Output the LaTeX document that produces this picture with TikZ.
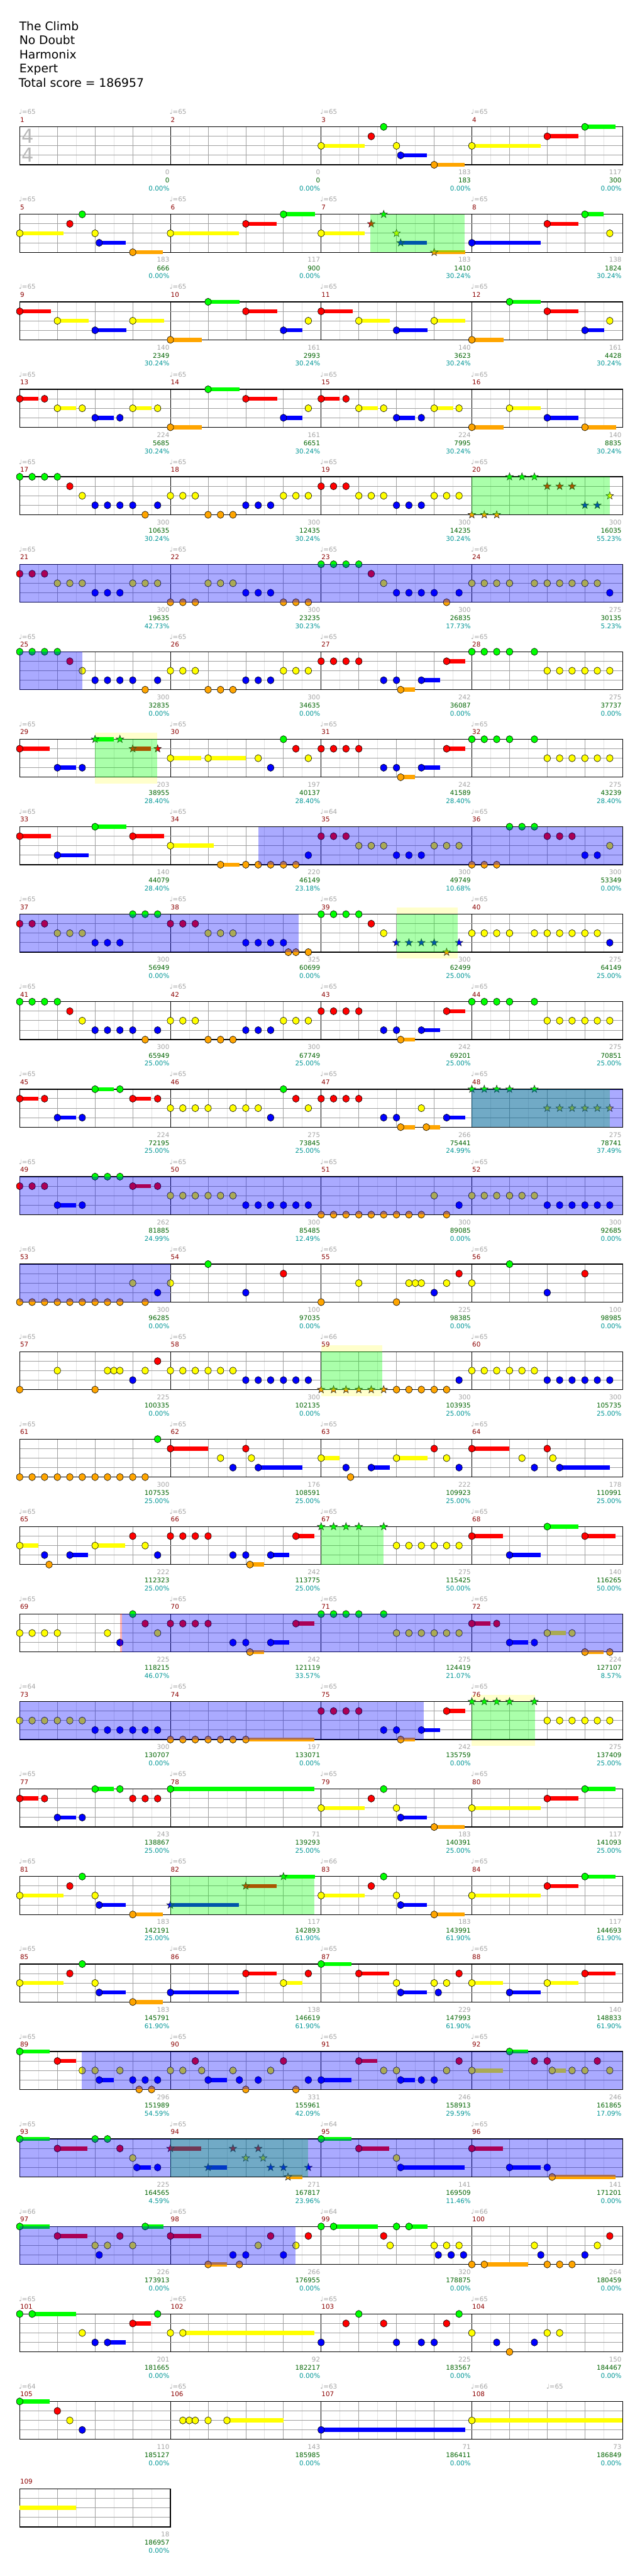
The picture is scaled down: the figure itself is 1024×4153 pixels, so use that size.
\documentclass[tikz,border=0pt]{standalone}
\usepackage{fontspec}
\setmainfont{DejaVu Sans}
\usepackage{tikz}
\usetikzlibrary{positioning}

\definecolor{lane0}{RGB}{0,255,0}
\definecolor{lane1}{RGB}{255,0,0}
\definecolor{lane2}{RGB}{255,255,0}
\definecolor{lane3}{RGB}{0,0,255}
\definecolor{lane4}{RGB}{255,165,0}
\definecolor{numred}{RGB}{140,0,0}
\definecolor{bpmgray}{RGB}{165,165,165}
\definecolor{scgreen}{RGB}{0,100,0}
\definecolor{pcteal}{RGB}{0,150,150}
\definecolor{gridlight}{RGB}{226,226,226}
\definecolor{gridmid}{RGB}{160,160,160}
\definecolor{sqzyellow}{RGB}{255,255,204}

% layout constants (1pt = 1px of the chart)
\def\xo{31.75}  \def\mw{243.06} \def\bw{60.77}
\def\yo{204.5}  \def\rp{141.04} \def\lw{15.3} \def\sh{61.2}
\newcommand\lblfont{\fontsize{10.5}{12}\selectfont}

% position of beat #2 in measure #1
\newcommand\setpos[2]{%
  \pgfmathtruncatemacro\rowi{(#1-1)/4}%
  \pgfmathtruncatemacro\coli{#1-1-4*\rowi}%
  \pgfmathsetmacro\nx{\xo+\mw*\coli+\bw*#2}%
  \pgfmathsetmacro\ty{-\yo-\rp*\rowi}%
}
% note: measure, beat, lane, sustain
\newcommand\nt[4]{%
  \setpos{#1}{#2}%
  \pgfmathsetmacro\ny{\ty-\lw*#3}%
  \edef\nc{lane#3}%
  \ifdim #4pt>0pt \fill[\nc] (\nx,\ny-3.35) rectangle ++({\bw*#4},6.7);\fi
  \filldraw[fill=\nc,draw=black,line width=0.6] (\nx,\ny) ellipse [x radius=5.2,y radius=5.8];%
}
% star note
\newcommand\snt[4]{%
  \setpos{#1}{#2}%
  \pgfmathsetmacro\ny{\ty-\lw*#3}%
  \edef\nc{lane#3}%
  \ifdim #4pt>0pt \fill[\nc] (\nx,\ny-3.35) rectangle ++({\bw*#4},6.7);\fi
  \filldraw[fill=\nc,draw=black!85,line width=0.6] ([shift={(\nx,\ny)}]90:6.4)
    \foreach \k in {1,...,9}{ -- ([shift={(\nx,\ny)}]{90+36*\k}:{mod(\k,2)==1?2.6:6.4}) } -- cycle;%
}
\newcommand\ms[2]{\edef\plist{#2}\foreach \pb/\pl/\ps in \plist {\nt{#1}{\pb}{\pl}{\ps}}}
\newcommand\mst[2]{\edef\plist{#2}\foreach \pb/\pl/\ps in \plist {\snt{#1}{\pb}{\pl}{\ps}}}
% shaded span inside one row
\newcommand\band[5]{\setpos{#1}{#2}\let\xa\nx\setpos{#3}{#4}%
  \fill[#5] (\xa,\ty) rectangle (\nx,\ty-\sh);}
\newcommand\halo[3]{\setpos{#1}{#2}\let\xa\nx\setpos{#1}{#3}%
  \fill[sqzyellow] (\xa,\ty+10.3) rectangle (\nx,\ty);
  \fill[sqzyellow] (\xa,\ty-\sh) rectangle (\nx,\ty-\sh-10.3);}

\begin{document}
\begin{tikzpicture}[x=1pt,y=1pt,
  eighthline/.style={gridlight,line width=0.8},
  beatline/.style={gridmid,line width=0.8},
  barline/.style={black,line width=0.9},
  laneline/.style={gridmid,line width=1},
  staffbox/.style={black,line width=1.3},
  spzone/.style={lane0,fill opacity=0.333},
  odzone/.style={lane3,fill opacity=0.333},
  ttl/.style={anchor=base west,inner sep=0,font=\fontsize{19}{23}\selectfont},
  numlbl/.style={anchor=base west,inner sep=0,font=\lblfont,text=numred},
  bpmlbl/.style={anchor=base west,inner sep=0,font=\lblfont,text=bpmgray},
  gaplbl/.style={anchor=base east,inner sep=0,font=\lblfont,text=bpmgray},
  sclbl/.style={anchor=base east,inner sep=0,font=\lblfont,text=scgreen},
  pclbl/.style={anchor=base east,inner sep=0,font=\lblfont,text=pcteal},
  tsig/.style={inner sep=0,font=\fontsize{31}{31}\selectfont,text=black!28}
]
\fill[white] (0,0) rectangle (1024,-4153);
\useasboundingbox (0,0) rectangle (1024,-4153);

% Title block
\node[ttl] (ttl1) at (31,-48.7) {The Climb};
\node[ttl] (ttl2) at (31,-71.5) {No Doubt};
\node[ttl] (ttl3) at (31,-94.4) {Harmonix};
\node[ttl] (ttl4) at (31,-117.2) {Expert};
\node[ttl] (ttl5) at (30,-140) {Total score = 186957};

% Squeeze areas around some phrases
\halo{29}{2}{3.65} \halo{39}{2}{3.63} \halo{59}{0}{1.63} \halo{76}{0}{1.67}

% Staff grids (27 full rows)
\foreach \r in {0,...,26}{
  \pgfmathsetmacro\ty{-\yo-\rp*\r}
  \foreach \i in {1,3,...,31} \draw[eighthline] ({\xo+\mw/8*\i},\ty) -- ++(0,-\sh);
  \foreach \i in {1,...,15} \draw[beatline] ({\xo+\bw*\i},\ty) -- ++(0,-\sh);
  \foreach \i in {1,2,3} \draw[barline] ({\xo+\mw*\i},\ty) -- ++(0,-\sh);
  \foreach \i in {1,2,3} \draw[laneline] (\xo,{\ty-\lw*\i}) -- ++({4*\mw},0);
  \draw[staffbox] (\xo,\ty) rectangle ++({4*\mw},-\sh);
}
% Last row, one measure
\pgfmathsetmacro\ty{-\yo-\rp*27}
\foreach \i in {1,3,5,7} \draw[eighthline] ({\xo+\mw/8*\i},\ty) -- ++(0,-\sh);
\foreach \i in {1,2,3} \draw[beatline] ({\xo+\bw*\i},\ty) -- ++(0,-\sh);
\foreach \i in {1,2,3} \draw[laneline] (\xo,{\ty-\lw*\i}) -- ++(\mw,0);
\draw[staffbox] (\xo,\ty) rectangle ++(\mw,-\sh);

% Time signature
\node[tsig] (tsig1) at (44.7,-219.2) {4};
\node[tsig] (tsig2) at (44.7,-249.4) {4};

% Note patterns: beat/lane/sustain
\def\patA{0/0/0,.33/0/0,.66/0/0,1/0/0,1.33/1/0,1.66/2/0,2/3/0,2.33/3/0,2.66/3/0,3/3/0,3.33/4/0,3.66/3/0}
\def\patB{0/2/0,.33/2/0,.66/2/0,1/4/0,1.33/4/0,1.66/4/0,2/3/0,2.33/3/0,2.66/3/0,3/2/0,3.33/2/0,3.66/2/0}
\def\patC{0/1/0,.33/1/0,.66/1/0,1/1/0,1.66/3/0,2/3/0,2.11/4/.38,2.66/3/.49,3.33/1/.49}
\def\patDg{0/0/0,.33/0/0,.66/0/0,1/0/0,1.66/0/0}
\def\patDy{2/2/0,2.33/2/0,2.66/2/0,3/2/0,3.33/2/0,3.66/2/0}
\def\patE{0/2/1.16,1.33/1/0,1.66/0/0,2/2/0,2.11/3/.7,3/4/.8}
\def\patF{0/2/1.82,2/1/.82,3/0/.82}
\def\patG{0/1/0,.33/1/0,.66/1/0,1/2/0,1.33/2/0,1.66/2/0,2/3/0,2.33/3/0,2.66/3/0,3/2/0,3.33/2/0,3.66/2/0}
\def\patH{0/4/.84,1/0/.83,2/1/.83,3/3/.51,3.66/2/0}
\def\patI{0/1/.83,1/2/.83,2/3/.83,3/2/.83}
\def\patJ{0/1/.49,.66/1/0,1/2/.5,1.66/2/0,2/3/.49,2.66/3/0,3/2/.5,3.66/2/0}
\def\patK{0/2/0,.33/2/0,.66/2/0,1/2/0,1.33/2/0,1.66/2/0,2/3/0,2.33/3/0,2.66/3/0,3/3/0,3.33/3/0,3.66/3/0}
\def\patL{0/4/0,.33/4/0,.66/4/0,1/4/0,1.33/4/0,1.66/4/0,2/4/0,2.33/4/0,2.66/4/0,3/2/0,3.33/4/0,3.66/3/0}
\def\patM{0/2/0,.33/2/0,.66/2/0,1/2/0,1.66/2/0,2/2/0,2.33/2/0,2.66/2/0,3/2/0,3.33/2/0,3.66/3/0}
\def\patN{0/2/0,1/0/0,2/3/0,3/1/0}
\def\patP{0/4/0,1/2/0,2/4/0,2.33/2/0,2.5/2/0,2.66/2/0,3/3/0,3.33/2/0,3.66/1/0}
\def\patS{0/4/0,.33/4/0,.66/4/0,1/0/0,1.33/0/0,1.66/0/0,2/1/0,2.33/1/0,2.66/1/0,3/3/0,3.33/3/0,3.66/2/0}

% Notes, measure by measure
\ms{3}{\patE} \ms{4}{\patF} \ms{5}{\patE} \ms{6}{0/2/1.82,2/1/.82,3/0/.83}
\ms{7}{0/2/1.16} \mst{7}{1.33/1/0,1.66/0/0,2/2/0,2.11/3/.7,3/4/.82}
\ms{8}{0/3/1.82,2/1/.82,3/0/.5,3.66/2/0}
\ms{9}{\patI} \ms{10}{\patH} \ms{11}{\patI} \ms{12}{\patH}
\ms{13}{\patJ} \ms{14}{\patH} \ms{15}{\patJ} \ms{16}{0/4/.84,1/2/.83,2/3/.83,3/4/.83}
\ms{17}{\patA} \ms{18}{\patB} \ms{19}{\patG} \mst{20}{\patS}
\ms{21}{\patG} \ms{22}{0/4/0,.33/4/0,.66/4/0,1/2/0,1.33/2/0,1.66/2/0,2/3/0,2.33/3/0,2.66/3/0,3/4/0,3.33/4/0,3.66/4/0}
\ms{23}{\patA} \ms{24}{\patM}
\ms{25}{\patA} \ms{26}{\patB} \ms{27}{\patC} \ms{28}{\patDg,\patDy}
\ms{29}{0/1/.8,1/3/.49,1.66/3/0} \mst{29}{2/0/.49,2.66/0/0,3/1/.49,3.66/1/0}
\ms{30}{0/2/.82,1/2/1,2.33/2/0,2.66/3/0,3/0/0,3.33/1/0,3.66/2/0}
\ms{31}{\patC} \ms{32}{\patDg,\patDy}
\ms{33}{0/1/.83,1/3/.83,2/0/.83,3/1/.83}
\ms{34}{0/2/1.15,1.33/4/.5,2/4/0,2.33/4/0,2.66/4/0,3/4/0,3.33/4/0,3.66/3/0}
\ms{35}{\patG} \ms{36}{\patS}
\ms{37}{0/1/0,.33/1/0,.66/1/0,1/2/0,1.33/2/0,1.66/2/0,2/3/0,2.33/3/0,2.66/3/0,3/0/0,3.33/0/0,3.66/0/0}
\ms{38}{0/1/0,.33/1/0,.66/1/0,1/2/0,1.33/2/0,1.66/2/0,2/3/0,2.33/3/0,2.66/3/0,3/3/0,3.13/4/0,3.33/4/0,3.66/4/0}
\ms{39}{0/0/0,.33/0/0,.66/0/0,1/0/0,1.33/1/0,1.66/2/0} \mst{39}{2/3/0,2.33/3/0,2.66/3/0,3/3/0,3.33/4/0,3.66/3/0}
\ms{40}{\patM}
\ms{41}{\patA} \ms{42}{\patB} \ms{43}{\patC} \ms{44}{\patDg,\patDy}
\ms{45}{0/1/.49,.66/1/0,1/3/.49,1.66/3/0,2/0/.49,2.66/0/0,3/1/.49,3.66/1/0}
\ms{46}{0/2/0,.33/2/0,.66/2/0,1/2/0,1.66/2/0,2/2/0,2.33/2/0,2.66/3/0,3/0/0,3.33/1/0,3.66/2/0}
\ms{47}{0/1/0,.33/1/0,.66/1/0,1/1/0,1.66/3/0,2/3/0,2.11/4/.38,2.66/2/0,2.79/4/.36,3.33/3/.5}
\mst{48}{\patDg,\patDy}
\ms{49}{0/1/0,.33/1/0,.66/1/0,1/3/.49,1.66/3/0,2/0/0,2.33/0/0,2.66/0/0,3/1/.49,3.66/1/0}
\ms{50}{\patK} \ms{51}{\patL} \ms{52}{\patK}
\ms{53}{\patL} \ms{54}{\patN} \ms{55}{\patP} \ms{56}{\patN}
\ms{57}{\patP} \ms{58}{\patK}
\mst{59}{0/4/0,.33/4/0,.66/4/0,1/4/0,1.33/4/0,1.66/4/0} \ms{59}{2/4/0,2.33/4/0,2.66/4/0,3/4/0,3.33/4/0,3.66/3/0}
\ms{60}{\patK}
\ms{61}{0/4/0,.33/4/0,.66/4/0,1/4/0,1.33/4/0,1.66/4/0,2/4/0,2.33/4/0,2.66/4/0,3/4/0,3.33/4/0,3.66/0/0}
\ms{62}{0/1/1,1.33/2/0,1.66/3/0,2/1/0,2.15/2/0,2.33/3/1.17}
\ms{63}{0/2/.49,.66/3/0,.78/4/0,1.33/3/.5,2/2/.83,3/1/0,3.33/2/0,3.66/3/0}
\ms{64}{0/1/1,1.33/2/0,1.66/3/0,2/1/0,2.15/2/0,2.33/3/1.34}
\ms{65}{0/2/.49,.66/3/0,.78/4/0,1.33/3/.49,2/2/.8,3/1/0,3.33/2/0,3.66/3/0}
\ms{66}{\patC} \mst{67}{\patDg} \ms{67}{\patDy} \ms{68}{0/1/.82,1/3/.82,2/0/.82,3/1/.82}
\ms{69}{0/2/0,.33/2/0,.66/2/0,1/2/0,2.33/2/0,2.66/3/0,3/0/0,3.33/1/0,3.66/2/0}
\ms{70}{\patC} \ms{71}{\patDg,\patDy}
\ms{72}{0/1/.5,.66/1/0,1/3/.5,1.66/3/0,2/2/.5,2.66/2/0,3/4/.5,3.66/4/0}
\ms{73}{\patK} \ms{74}{0/4/0,.33/4/0,.66/4/0,1/4/0,1.33/4/0,1.66/4/0,2/4/1.82}
\ms{75}{\patC} \mst{76}{\patDg} \ms{76}{\patDy}
\ms{77}{0/1/.49,.66/1/0,1/3/.49,1.66/3/0,2/0/.49,2.66/0/0,3/1/0,3.33/1/0,3.66/1/0}
\ms{78}{0/0/3.82} \ms{79}{\patE} \ms{80}{\patF}
\ms{81}{\patE} \mst{82}{0/3/1.82,2/1/.82,3/0/.83} \ms{83}{\patE} \ms{84}{\patF}
\ms{85}{\patE} \ms{86}{0/3/1.82,2/1/.82,3/2/.51,3.66/1/0}
\ms{87}{0/0/.8,1/1/.8,2/2/0,2.11/3/.7,3/2/0,3.11/3/0,3.33/2/0,3.66/1/0}
\ms{88}{0/2/.82,1/3/.82,2/2/.82,3/1/.82}
\ms{89}{0/0/.8,1/1/.49,1.66/2/0,2/2/0,2.11/3/.38,2.66/2/0,3/3/0,3.17/4/0,3.33/3/0,3.5/4/0,3.66/3/0}
\ms{90}{0/2/0,.33/2/0,.66/1/0,.83/2/0,1/3/.5,1.66/2/0,1.83/3/0,2/4/0,2.33/3/0,2.66/2/0,3/1/0,3.33/4/0,3.66/3/0}
\ms{91}{0/3/.8,1/1/.49,1.66/2/0,2/2/0,2.11/3/.38,2.66/3/0,3/3/0,3.33/2/0,3.66/1/0}
\ms{92}{0/2/.82,1/0/.5,1.66/1/0,2/1/0,2.13/2/.37,2.66/2/0,3/2/0,3.33/1/0,3.66/2/0}
\ms{93}{0/0/.8,1/1/.8,2/0/0,2.33/0/0,2.66/1/0,3/2/0,3.11/3/.38,3.66/3/0}
\mst{94}{0/1/.82,1/3/.5,1.66/1/0,2/2/0,2.33/1/0,2.46/2/0,2.66/3/0,3/3/0,3.12/4/.38,3.66/3/0}
\ms{95}{0/0/.8,1/1/.8,2/2/0,2.11/3/1.7}
\ms{96}{0/1/.82,1/3/.82,2/3/0,2.13/4/1.69}
\ms{97}{0/0/.8,1/1/.8,2/2/0,2.11/3/0,2.33/2/0,2.66/1/0,3/2/0,3.33/0/.49}
\ms{98}{0/1/.82,1/4/.5,1.66/3/0,1.83/4/0,2/3/0,2.33/2/0,2.66/1/0,3/3/0,3.33/2/0,3.66/1/0}
\ms{99}{0/0/0,.33/0/1.17,1.66/1/0,1.83/2/0,2/0/0,2.33/0/.49,3/2/0,3.11/3/0,3.33/2/0,3.45/3/0,3.66/2/0,3.78/3/0}
\ms{100}{0/4/0,.33/4/1.17,1.66/2/0,1.83/3/0,2/4/0,2.33/4/0,2.66/4/0,3/3/0,3.33/2/0,3.66/1/0}
\ms{101}{0/0/0,.33/0/1.17,1.66/2/0,2/3/0,2.33/3/.49,3/1/.49,3.66/0/0}
\ms{102}{0/2/0,.33/2/3.49}
\ms{103}{0/3/0,.66/1/0,1/0/0,1.66/1/0,2/3/0,2.66/3/0,3/3/0,3.33/1/0,3.66/0/0}
\ms{104}{0/2/0,.66/3/0,1/4/0,1.66/3/0,2/2/0,2.33/2/0}
\ms{105}{0/0/.8,1/1/0,1.33/2/0,1.66/3/0}
\ms{106}{.33/2/0,.5/2/0,.66/2/0,1/2/0,1.5/2/1.5}
\ms{107}{0/3/3.82} \ms{108}{0/2/4}
\setpos{109}{0}
\fill[lane2] (\nx,\ty-\lw*2-3.35) rectangle ++({1.5*\bw},6.7);

% Star power phrases
\foreach \a/\ba/\c/\bc in {7/1.31/7/3.81, 20/0/20/3.66, 29/2/29/3.65, 39/2/39/3.63,
  48/0/48/3.66, 59/0/59/1.63, 67/0/67/1.65, 76/0/76/1.67, 82/0/82/3.82, 94/0/94/3.66}
  {\band{\a}{\ba}{\c}{\bc}{spzone}}
% Overdrive activations
\band{69}{2.66}{69}{2.72}{red,fill opacity=0.3}
\foreach \a/\ba/\c/\bc in {21/0/24/4, 25/0/25/1.66, 34/2.33/36/4, 37/0/38/3.41,
  48/0/48/4, 49/0/52/4, 53/0/53/4, 69/2.72/72/4, 73/0/75/2.72,
  89/1.65/92/4, 93/0/96/4, 97/0/98/3.32}
  {\band{\a}{\ba}{\c}{\bc}{odzone}}

% Measure labels: number/tempo/gap/score/percent
\foreach \mm/\tp/\gp/\vs/\pc in {1/65/0/0/0.00, 2/65/0/0/0.00, 3/65/183/183/0.00, 4/65/117/300/0.00,
  5/65/183/666/0.00, 6/65/117/900/0.00, 7/65/183/1410/30.24, 8/65/138/1824/30.24,
  9/65/140/2349/30.24, 10/65/161/2993/30.24, 11/65/140/3623/30.24, 12/65/161/4428/30.24,
  13/65/224/5685/30.24, 14/65/161/6651/30.24, 15/65/224/7995/30.24, 16/65/140/8835/30.24,
  17/65/300/10635/30.24, 18/65/300/12435/30.24, 19/65/300/14235/30.24, 20/65/300/16035/55.23,
  21/65/300/19635/42.73, 22/65/300/23235/30.23, 23/65/300/26835/17.73, 24/65/275/30135/5.23,
  25/65/300/32835/0.00, 26/65/300/34635/0.00, 27/65/242/36087/0.00, 28/65/275/37737/0.00,
  29/65/203/38955/28.40, 30/65/197/40137/28.40, 31/65/242/41589/28.40, 32/65/275/43239/28.40,
  33/65/140/44079/28.40, 34/65/220/46149/23.18, 35/64/300/49749/10.68, 36/65/300/53349/0.00,
  37/65/300/56949/0.00, 38/65/325/60699/0.00, 39/65/300/62499/25.00, 40/65/275/64149/25.00,
  41/65/300/65949/25.00, 42/65/300/67749/25.00, 43/65/242/69201/25.00, 44/65/275/70851/25.00,
  45/65/224/72195/25.00, 46/65/275/73845/25.00, 47/65/266/75441/24.99, 48/65/275/78741/37.49,
  49/65/262/81885/24.99, 50/65/300/85485/12.49, 51/65/300/89085/0.00, 52/65/300/92685/0.00,
  53/65/300/96285/0.00, 54/65/100/97035/0.00, 55/65/225/98385/0.00, 56/65/100/98985/0.00,
  57/65/225/100335/0.00, 58/65/300/102135/0.00, 59/66/300/103935/25.00, 60/65/300/105735/25.00,
  61/65/300/107535/25.00, 62/65/176/108591/25.00, 63/65/222/109923/25.00, 64/65/178/110991/25.00,
  65/65/222/112323/25.00, 66/65/242/113775/25.00, 67/65/275/115425/50.00, 68/65/140/116265/50.00,
  69/65/225/118215/46.07, 70/65/242/121119/33.57, 71/65/275/124419/21.07, 72/65/224/127107/8.57,
  73/64/300/130707/0.00, 74/65/197/133071/0.00, 75/65/242/135759/0.00, 76/65/275/137409/25.00,
  77/65/243/138867/25.00, 78/65/71/139293/25.00, 79/65/183/140391/25.00, 80/65/117/141093/25.00,
  81/65/183/142191/25.00, 82/65/117/142893/61.90, 83/66/183/143991/61.90, 84/65/117/144693/61.90,
  85/65/183/145791/61.90, 86/65/138/146619/61.90, 87/65/229/147993/61.90, 88/65/140/148833/61.90,
  89/65/296/151989/54.59, 90/65/331/155961/42.09, 91/65/246/158913/29.59, 92/65/246/161865/17.09,
  93/65/225/164565/4.59, 94/65/271/167817/23.96, 95/64/141/169509/11.46, 96/65/141/171201/0.00,
  97/66/226/173913/0.00, 98/65/266/176955/0.00, 99/64/320/178875/0.00, 100/66/264/180459/0.00,
  101/65/201/181665/0.00, 102/65/92/182217/0.00, 103/65/225/183567/0.00, 104/65/150/184467/0.00,
  105/64/110/185127/0.00, 106/65/143/185985/0.00, 107/63/71/186411/0.00, 108/66/73/186849/0.00,
  109/0/18/186957/0.00}{
  \setpos{\mm}{0}
  \node[numlbl] (num\mm) at (\nx+0.5,\ty+7.7) {\mm};
  \ifnum\tp>0 \node[bpmlbl] (bpm\mm) at (\nx-1.5,\ty+20.2) {♩=\tp};\fi
  \setpos{\mm}{4}
  \node[gaplbl] (gap\mm) at (\nx-1.5,\ty-\sh-16) {\gp};
  \node[sclbl] (sc\mm) at (\nx-1.5,\ty-\sh-29.3) {\vs};
  \node[pclbl] (pc\mm) at (\nx-1.5,\ty-\sh-42.3) {\pc\%};
}
\setpos{108}{2}
\node[bpmlbl] (bpm108b) at (\nx-1.5,\ty+20.2) {♩=65};
\end{tikzpicture}
\end{document}
